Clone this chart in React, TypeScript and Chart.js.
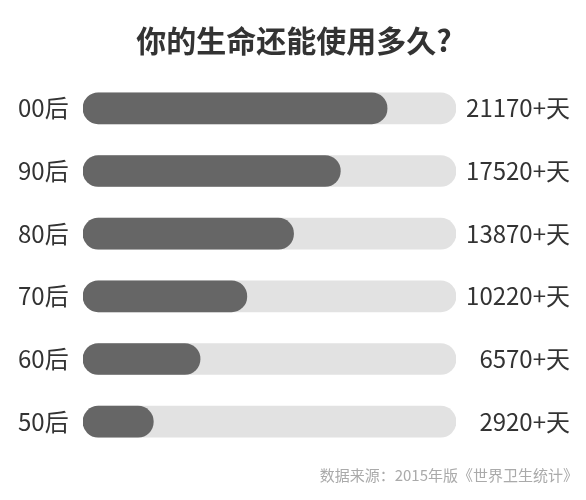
import { useEffect, useRef } from 'react';
import { Chart, registerables } from 'chart.js';

Chart.register(...registerables);

// 数据
const GENERATIONS = ['00后', '90后', '80后', '70后', '60后', '50后'];
const DAYS_LEFT = [21170, 17520, 13870, 10220, 6570, 2920];
const DAY_LABELS = DAYS_LEFT.map((d) => `${d}+天`);
const TITLE = '你的生命还能使用多久?';
const SOURCE = '数据来源：2015年版《世界卫生统计》';

// value range of the grey track (left rounded cap sits below zero)
const X_MIN = -2570;
const X_MAX = 26550;

const FONT = '"Noto Sans CJK SC", "Noto Sans", sans-serif';

const sourcePlugin = {
  id: 'sourceNote',
  afterDraw(chart: any) {
    const { ctx } = chart;
    ctx.save();
    ctx.font = `15px ${FONT}`;
    ctx.fillStyle = '#aaaaaa';
    ctx.textAlign = 'right';
    ctx.textBaseline = 'middle';
    ctx.fillText(SOURCE, chart.width - 8, 475);
    ctx.restore();
  },
};

export default function App() {
  const canvasRef = useRef<HTMLCanvasElement>(null);
  const chartRef = useRef<any>(null);

  useEffect(() => {
    if (!canvasRef.current) return;
    if (chartRef.current) chartRef.current.destroy();

    document.body.style.margin = '0';
    Chart.defaults.font.family = FONT;

    chartRef.current = new Chart(canvasRef.current, {
      type: 'bar',
      data: {
        labels: GENERATIONS,
        datasets: [
          {
            label: 'days',
            data: DAYS_LEFT.map((d) => [X_MIN, d]),
            backgroundColor: '#666666',
            barThickness: 31,
            borderRadius: 16,
            borderSkipped: false,
            grouped: false,
          },
          {
            label: 'track',
            data: DAYS_LEFT.map(() => [X_MIN, X_MAX]),
            backgroundColor: '#e2e2e2',
            barThickness: 31,
            borderRadius: 16,
            borderSkipped: false,
            grouped: false,
          },
        ],
      },
      options: {
        indexAxis: 'y',
        responsive: true,
        maintainAspectRatio: false,
        animation: false,
        layout: {
          padding: { left: 18, right: 16, top: 0, bottom: 47 },
        },
        plugins: {
          legend: { display: false },
          tooltip: { enabled: false },
          title: {
            display: true,
            text: TITLE,
            color: '#333333',
            font: { size: 30, weight: 'bold', family: FONT },
            padding: { top: 23, bottom: 18 },
          },
        },
        scales: {
          x: {
            display: false,
            min: X_MIN,
            max: X_MAX,
          },
          y: {
            position: 'left',
            grid: { display: false },
            border: { display: false },
            ticks: {
              color: '#333333',
              crossAlign: 'far',
              font: { size: 24, family: FONT },
            },
            afterFit(scale: any) {
              scale.width = 65;
            },
          },
          y2: {
            type: 'category',
            position: 'right',
            labels: DAY_LABELS,
            grid: { display: false },
            border: { display: false },
            ticks: {
              color: '#333333',
              crossAlign: 'far',
              font: { size: 24, family: FONT },
            },
            afterFit(scale: any) {
              scale.width = 114;
            },
          },
        },
      },
      plugins: [sourcePlugin],
    });

    return () => {
      if (chartRef.current) {
        chartRef.current.destroy();
        chartRef.current = null;
      }
    };
  }, []);

  return (
    <div style={{ position: 'relative', width: 586, height: 500, background: '#ffffff' }}>
      <canvas ref={canvasRef}></canvas>
    </div>
  );
}
